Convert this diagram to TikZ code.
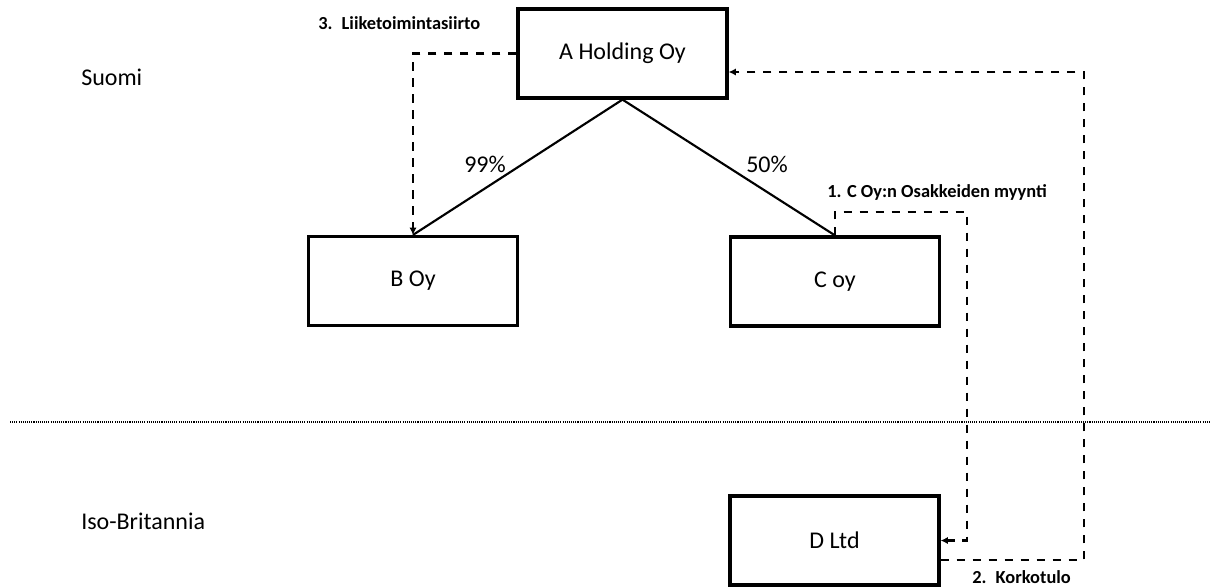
\documentclass[tikz,border=0pt]{standalone}
\usepackage{fontspec}
\setmainfont{Carlito}
\usetikzlibrary{arrows.meta}

\begin{document}
\begin{tikzpicture}[x=0.75pt,y=-0.75pt,
  entity/.style={draw, fill=white, line width=2.4pt, minimum width=156.75pt,
    minimum height=66.75pt, inner sep=0pt, font=\fontsize{18}{21}\selectfont},
  region/.style={font=\fontsize{18}{21}\selectfont, inner sep=0pt},
  share/.style={font=\fontsize{18}{21}\selectfont, inner sep=0pt},
  owns/.style={line width=1.6pt},
  flow/.style={line width=1.8pt, dash pattern=on 6.5pt off 5.5pt,
    -{Latex[length=5.5pt,width=5.5pt]}},
  steplabel/.style={font=\bfseries\fontsize{13.8}{16}\selectfont, inner sep=0pt},
  border/.style={line width=0.9pt, dash pattern=on 0.8pt off 0.8pt}]

\useasboundingbox (0,0) rectangle (1211,587);

% companies
\node[entity] (A) at (622.5,53.5) {A Holding Oy};
\node[entity] (B) at (413,281) {B Oy};
\node[entity] (C) at (835,281.5) {C oy};
\node[entity] (D) at (834.5,540.5) {D Ltd};

% countries and border
\node[region, anchor=west] (fi) at (81,77) {Suomi};
\node[region, anchor=west] (uk) at (81,521) {Iso-Britannia};
\coordinate (bl) at (10,422);
\coordinate (br) at (1211,422);
\draw[border] (bl) -- (br);

% ownership
\draw[owns] (A.south) -- (B.north);
\draw[owns] (A.south) -- (C.north);
\node[share] (p99) at (485,164) {99\%};
\node[share] (p50) at (767,164) {50\%};

% 1. sale of the C Oy shares
\coordinate (s1) at (967,212);
\draw[flow] (C.north) |- (s1) |- (D.east);
\node[steplabel, anchor=west] (t1) at (827,192) {1. C Oy:n Osakkeiden myynti};

% 2. interest income
\coordinate (k1) at (1084,560);
\coordinate (k2) at (1084,72);
\draw[flow] (D.east |- k1) -- (k1) -- (k2) -- (A.east |- k2);
\node[steplabel, anchor=west] (t2) at (972,577) {2.\hspace{0.5em}Korkotulo};

% 3. transfer of business
\draw[flow] (A.west) -| (B.north);
\node[steplabel, anchor=west] (t3) at (318,23) {3.\hspace{0.5em}Liiketoimintasiirto};

\end{tikzpicture}
\end{document}
